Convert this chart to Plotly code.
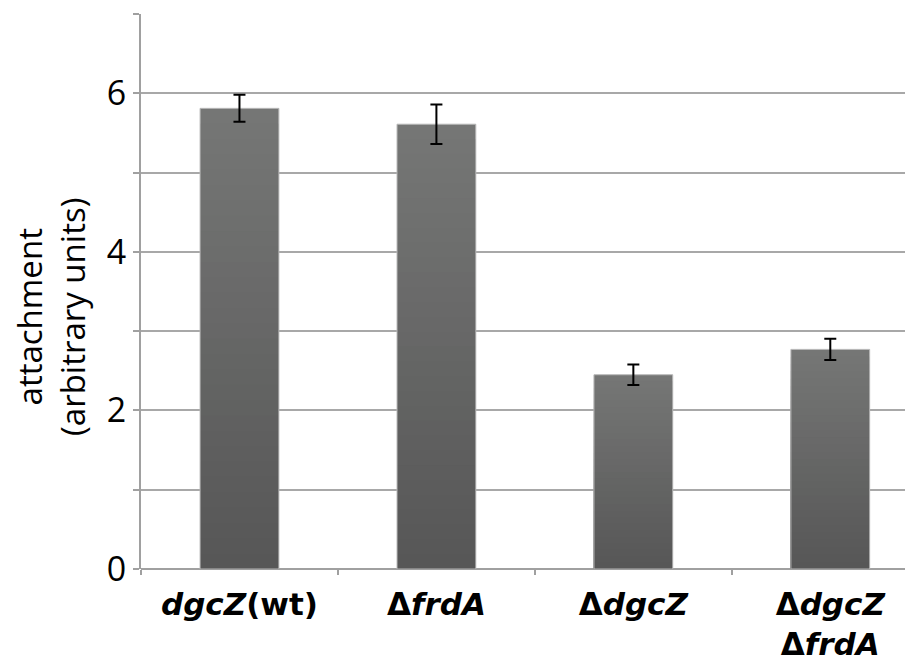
import plotly.graph_objects as go

categories = ["<b><i>dgcZ</i>(wt)</b>", "<b>Δ<i>frdA</i></b>", "<b>Δ<i>dgcZ</i></b>", "<b>Δ<i>dgcZ</i><br>Δ<i>frdA</i></b>"]
values = [5.81, 5.61, 2.45, 2.77]
errors = [0.17, 0.25, 0.13, 0.135]
tick_vals = [0, 1, 2, 3, 4, 5, 6, 7]
tick_text = ["0", "", "2", "", "4", "", "6", ""]
y_title = "attachment<br>(arbitrary units)"

FONT = "Open Sans"
XFONT = "DejaVu Sans"
fig = go.Figure()

# gradient bars: overlapping bars, tallest (lightest top) first, shorter darker ones on top
N = 30
dark = (86, 86, 86)
light = (118, 119, 118)
for k in range(N):
    frac = 1 - k / N
    t = frac - 0.5 / N
    c = tuple(int(round(dark[i] + (light[i] - dark[i]) * t)) for i in range(3))
    fig.add_trace(go.Bar(
        x=categories,
        y=[v * frac for v in values],
        marker=dict(color="rgb(%d,%d,%d)" % c, line=dict(width=0)),
        width=0.4, showlegend=False, hoverinfo="skip",
    ))

# outline + error bars
fig.add_trace(go.Bar(
    x=categories, y=values,
    marker=dict(color="rgba(0,0,0,0)", line=dict(color="#b8b8b8", width=1)),
    width=0.4, showlegend=False,
    error_y=dict(type="data", array=errors, color="black", thickness=2, width=6),
))

# y axis title placed as a rotated annotation (slightly below the plot's middle, as in the reference)
fig.add_annotation(
    text=y_title, xref="paper", yref="paper", x=-0.116, y=0.455,
    xanchor="center", yanchor="middle", textangle=-90, showarrow=False,
    font=dict(size=33, family=FONT, color="black"),
)

# page body has an 8px margin: compensate so the plot lands where the reference has it
fig.update_layout(
    barmode="overlay",
    width=905, height=656,
    margin=dict(l=133, r=0, t=6, b=95),
    plot_bgcolor="white", paper_bgcolor="white",
    font=dict(family=FONT, color="black"),
    xaxis=dict(
        range=[-0.5, 3.42], tickson="boundaries", ticks="outside", ticklen=5,
        tickcolor="#a0a0a0", tickwidth=2, showline=False, showgrid=False,
        tickfont=dict(size=31, family=XFONT), ticklabelstandoff=14, automargin=False,
    ),
    yaxis=dict(
        range=[0, 7], tickvals=tick_vals, ticktext=tick_text,
        showgrid=True, gridcolor="#a8a8a8", gridwidth=2,
        zeroline=True, zerolinecolor="#a0a0a0", zerolinewidth=2,
        showline=True, linecolor="#a0a0a0", linewidth=2,
        ticks="outside", ticklen=6, tickcolor="#a0a0a0", tickwidth=2,
        tickfont=dict(size=34, family=FONT),
        automargin=False,
    ),
)

fig.write_html("out.html")
